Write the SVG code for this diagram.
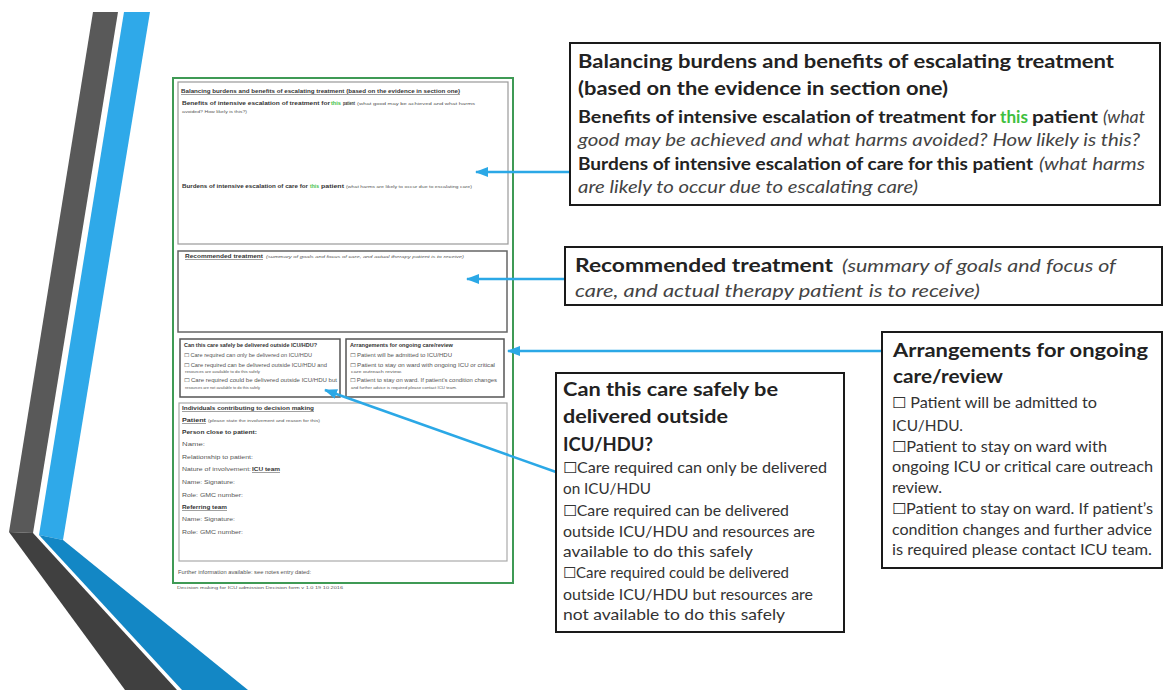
<svg xmlns="http://www.w3.org/2000/svg" width="1168" height="697" viewBox="0 0 1168 697">
<style>
.t{font-family:Lato,"Liberation Sans",sans-serif;fill:#222}
.h{font-weight:bold;font-size:19px}
.s{font-weight:bold;font-size:16.5px}
.i{font-style:italic;font-size:16.5px;fill:#444}
.b{font-size:15px;fill:#333}
.f{font-family:"Liberation Sans",Arial,sans-serif;font-size:4.6px;fill:#555}
.fb{font-weight:bold;fill:#333}
.fs{font-size:3.6px}
.u{text-decoration:underline}
.g{fill:#3fbf3f}
.box{fill:#fff;stroke:#1a1a1a;stroke-width:2}
.con{stroke:#2BA8E6;stroke-width:2.5;fill:none}
</style>
<defs>
<marker id="ah" markerUnits="userSpaceOnUse" markerWidth="13" markerHeight="10" refX="12" refY="5" orient="auto">
<path d="M0,0 L13,5 L0,10 z" fill="#2BA8E6"/>
</marker>
</defs>
<rect width="1168" height="697" fill="#fff"/>
<g id="stripes">
<polygon points="93,12 118,12 33,533 9,532" fill="#595959"/>
<polygon points="9,532 33,533 177,690 125,690" fill="#404040"/>
<polygon points="124,12 150,12 63,540 39,535" fill="#2FA9E9"/>
<polygon points="39,535 63,540 248,690 182,690" fill="#1387C5"/>
</g>
<g id="form">
<rect x="173" y="78" width="340" height="505" fill="#fff" stroke="#3f9a55" stroke-width="2"/>
<rect x="178" y="82" width="330" height="162" fill="none" stroke="#999" stroke-width="1.2"/>
<rect x="178" y="251" width="329" height="81" fill="none" stroke="#666" stroke-width="1.5"/>
<rect x="180" y="339" width="160" height="58" fill="none" stroke="#555" stroke-width="1.5"/>
<rect x="346" y="339" width="158" height="58" fill="none" stroke="#555" stroke-width="1.5"/>
<rect x="179" y="403" width="328" height="158" fill="none" stroke="#aaa" stroke-width="1.2"/>
<text class="f fb u" x="181" y="93" textLength="279" lengthAdjust="spacingAndGlyphs">Balancing burdens and benefits of escalating treatment (based on the evidence in section one)</text>
<text class="f fb" x="182" y="105" textLength="148" lengthAdjust="spacingAndGlyphs">Benefits of intensive escalation of treatment  for</text>
<text class="f fb g" x="331" y="105" textLength="10" lengthAdjust="spacingAndGlyphs">this</text>
<text class="f fb" x="343" y="105" textLength="12" lengthAdjust="spacingAndGlyphs">patient</text>
<text class="f fs" x="357" y="105" textLength="118" lengthAdjust="spacingAndGlyphs">(what good may be achieved and what harms</text>
<text class="f fs" x="182" y="113" textLength="65" lengthAdjust="spacingAndGlyphs">avoided? How likely is this?)</text>
<text class="f fb" x="182" y="188" textLength="126" lengthAdjust="spacingAndGlyphs">Burdens of intensive escalation of care for</text>
<text class="f fb g" x="310" y="188" textLength="9" lengthAdjust="spacingAndGlyphs">this</text>
<text class="f fb" x="321" y="188" textLength="23" lengthAdjust="spacingAndGlyphs">patient</text>
<text class="f fs" x="346" y="188" textLength="126" lengthAdjust="spacingAndGlyphs">(what harms are likely to occur due to escalating care)</text>
<text class="f fb u" x="185" y="258" textLength="78" lengthAdjust="spacingAndGlyphs">Recommended treatment</text>
<text class="f fs" x="266" y="258" font-style="italic" textLength="198" lengthAdjust="spacingAndGlyphs">(summary of goals and focus of care, and actual therapy patient is to receive)</text>
<text class="f fb" x="184" y="347" textLength="133" lengthAdjust="spacingAndGlyphs">Can this care safely be delivered outside ICU/HDU?</text>
<text class="f" x="184" y="357" textLength="128" lengthAdjust="spacingAndGlyphs">☐  Care required can only be delivered on ICU/HDU</text>
<text class="f" x="184" y="367" textLength="143" lengthAdjust="spacingAndGlyphs">☐  Care required can be delivered outside ICU/HDU and</text>
<text class="f fs" x="185" y="373" textLength="75" lengthAdjust="spacingAndGlyphs">resources are available to do this safely</text>
<text class="f" x="184" y="382" textLength="153" lengthAdjust="spacingAndGlyphs">☐  Care required could be delivered outside ICU/HDU but</text>
<text class="f fs" x="185" y="389" textLength="75" lengthAdjust="spacingAndGlyphs">resources are not available to do this safely</text>
<text class="f fb" x="350" y="347" textLength="103" lengthAdjust="spacingAndGlyphs">Arrangements for ongoing care/review</text>
<text class="f" x="350" y="357" textLength="102" lengthAdjust="spacingAndGlyphs">☐  Patient will be admitted to ICU/HDU</text>
<text class="f" x="350" y="367" textLength="145" lengthAdjust="spacingAndGlyphs">☐  Patient to stay on ward with ongoing ICU or critical</text>
<text class="f fs" x="351" y="373" textLength="51" lengthAdjust="spacingAndGlyphs">care outreach review.</text>
<text class="f" x="350" y="382" textLength="147" lengthAdjust="spacingAndGlyphs">☐  Patient to stay on ward. If patient’s condition changes</text>
<text class="f fs" x="351" y="389" textLength="106" lengthAdjust="spacingAndGlyphs">and further advice is required please contact ICU team.</text>
<text class="f fb u" x="182" y="410" textLength="132" lengthAdjust="spacingAndGlyphs">Individuals contributing to decision making</text>
<text class="f fb u" x="182" y="422" textLength="24" lengthAdjust="spacingAndGlyphs">Patient</text>
<text class="f fs" x="208" y="422" textLength="112" lengthAdjust="spacingAndGlyphs">(please state the involvement and reason for this)</text>
<text class="f fb" x="182" y="434" textLength="75" lengthAdjust="spacingAndGlyphs">Person close to patient:</text>
<text class="f" x="182" y="446" textLength="23" lengthAdjust="spacingAndGlyphs">Name:</text>
<text class="f" x="182" y="459" textLength="71" lengthAdjust="spacingAndGlyphs">Relationship to patient:</text>
<text class="f" x="182" y="471" textLength="69" lengthAdjust="spacingAndGlyphs">Nature of involvement:</text>
<text class="f fb u" x="252" y="471" textLength="28" lengthAdjust="spacingAndGlyphs">ICU team</text>
<text class="f" x="182" y="484" textLength="53" lengthAdjust="spacingAndGlyphs">Name: Signature:</text>
<text class="f" x="182" y="497" textLength="61" lengthAdjust="spacingAndGlyphs">Role: GMC  number:</text>
<text class="f fb u" x="182" y="509" textLength="45" lengthAdjust="spacingAndGlyphs">Referring team</text>
<text class="f" x="182" y="521" textLength="53" lengthAdjust="spacingAndGlyphs">Name: Signature:</text>
<text class="f" x="182" y="534" textLength="61" lengthAdjust="spacingAndGlyphs">Role: GMC  number:</text>
<text class="f" x="178" y="574" textLength="133" lengthAdjust="spacingAndGlyphs">Further information available: see notes entry dated:</text>
<text class="f fs" x="177" y="589" textLength="166" lengthAdjust="spacingAndGlyphs">Decision making for ICU admission Decision form v 1.0 19 10 2016</text>
</g>
<g id="connectors">
<line class="con" x1="570" y1="172" x2="476" y2="172" marker-end="url(#ah)"/>
<line class="con" x1="565" y1="279" x2="467" y2="279" marker-end="url(#ah)"/>
<line class="con" x1="882" y1="351" x2="508" y2="351" marker-end="url(#ah)"/>
<line class="con" x1="556" y1="472" x2="325" y2="390" marker-end="url(#ah)"/>
</g>
<g id="box-balancing">
<rect class="box" x="570" y="43" width="590" height="162"/>
<text class="t h" x="578" y="68" textLength="536" lengthAdjust="spacingAndGlyphs">Balancing burdens and benefits of escalating treatment</text>
<text class="t h" x="578" y="95" textLength="370" lengthAdjust="spacingAndGlyphs">(based on the evidence in section one)</text>
<text class="t s" x="578" y="123" textLength="418" lengthAdjust="spacingAndGlyphs">Benefits of intensive escalation of treatment for</text>
<text class="t s g" x="1000" y="123" textLength="28" lengthAdjust="spacingAndGlyphs">this</text>
<text class="t s" x="1032" y="123" textLength="66" lengthAdjust="spacingAndGlyphs">patient</text>
<text class="t i" x="1103" y="123" textLength="42" lengthAdjust="spacingAndGlyphs">(what</text>
<text class="t i" x="578" y="146" textLength="562" lengthAdjust="spacingAndGlyphs">good may be achieved and what harms avoided? How likely is this?</text>
<text class="t s" x="578" y="170" textLength="455" lengthAdjust="spacingAndGlyphs">Burdens of intensive escalation of care for this patient</text>
<text class="t i" x="1039" y="170" textLength="106" lengthAdjust="spacingAndGlyphs">(what harms</text>
<text class="t i" x="578" y="193" textLength="340" lengthAdjust="spacingAndGlyphs">are likely to occur due to escalating care)</text>
</g>
<g id="box-recommended">
<rect class="box" x="565" y="247" width="597" height="58"/>
<text class="t h" x="575" y="272" textLength="258" lengthAdjust="spacingAndGlyphs">Recommended treatment</text>
<text class="t i" x="842" y="272" font-size="19px" textLength="274" lengthAdjust="spacingAndGlyphs">(summary of goals and focus of</text>
<text class="t i" x="575" y="297" font-size="19px" textLength="405" lengthAdjust="spacingAndGlyphs">care, and actual therapy patient is to receive)</text>
</g>
<g id="box-arrangements">
<rect class="box" x="882" y="332" width="280" height="236"/>
<text class="t h" x="893" y="357" font-size="20px" textLength="255" lengthAdjust="spacingAndGlyphs">Arrangements for ongoing</text>
<text class="t h" x="893" y="383" font-size="20px" textLength="110" lengthAdjust="spacingAndGlyphs">care/review</text>
<text class="t b" x="892" y="408" textLength="205" lengthAdjust="spacingAndGlyphs">☐ Patient will be admitted to</text>
<text class="t b" x="892" y="431" textLength="71" lengthAdjust="spacingAndGlyphs">ICU/HDU.</text>
<text class="t b" x="892" y="452" textLength="215" lengthAdjust="spacingAndGlyphs">☐Patient to stay on ward with</text>
<text class="t b" x="892" y="472" textLength="261" lengthAdjust="spacingAndGlyphs">ongoing ICU or critical care outreach</text>
<text class="t b" x="892" y="493" textLength="50" lengthAdjust="spacingAndGlyphs">review.</text>
<text class="t b" x="892" y="514" textLength="261" lengthAdjust="spacingAndGlyphs">☐Patient to stay on ward. If patient’s</text>
<text class="t b" x="892" y="535" textLength="260" lengthAdjust="spacingAndGlyphs">condition changes and further advice</text>
<text class="t b" x="892" y="555" textLength="260" lengthAdjust="spacingAndGlyphs">is required please contact ICU team.</text>
</g>
<g id="box-outside">
<rect class="box" x="556" y="373" width="288" height="259"/>
<text class="t h" x="563" y="396" font-size="20px" textLength="215" lengthAdjust="spacingAndGlyphs">Can this care safely be</text>
<text class="t h" x="563" y="423" font-size="20px" textLength="165" lengthAdjust="spacingAndGlyphs">delivered outside</text>
<text class="t h" x="563" y="451" font-size="20px" textLength="90" lengthAdjust="spacingAndGlyphs">ICU/HDU?</text>
<text class="t b" x="563" y="473" textLength="264" lengthAdjust="spacingAndGlyphs">☐Care required can only be delivered</text>
<text class="t b" x="563" y="494" textLength="88" lengthAdjust="spacingAndGlyphs">on ICU/HDU</text>
<text class="t b" x="563" y="516" textLength="226" lengthAdjust="spacingAndGlyphs">☐Care required can be delivered</text>
<text class="t b" x="563" y="537" textLength="252" lengthAdjust="spacingAndGlyphs">outside ICU/HDU and resources are</text>
<text class="t b" x="563" y="557" textLength="190" lengthAdjust="spacingAndGlyphs">available to do this safely</text>
<text class="t b" x="563" y="578" textLength="226" lengthAdjust="spacingAndGlyphs">☐Care required could be delivered</text>
<text class="t b" x="563" y="600" textLength="250" lengthAdjust="spacingAndGlyphs">outside ICU/HDU but resources are</text>
<text class="t b" x="563" y="620" textLength="222" lengthAdjust="spacingAndGlyphs">not available to do this safely</text>
</g>
</svg>
